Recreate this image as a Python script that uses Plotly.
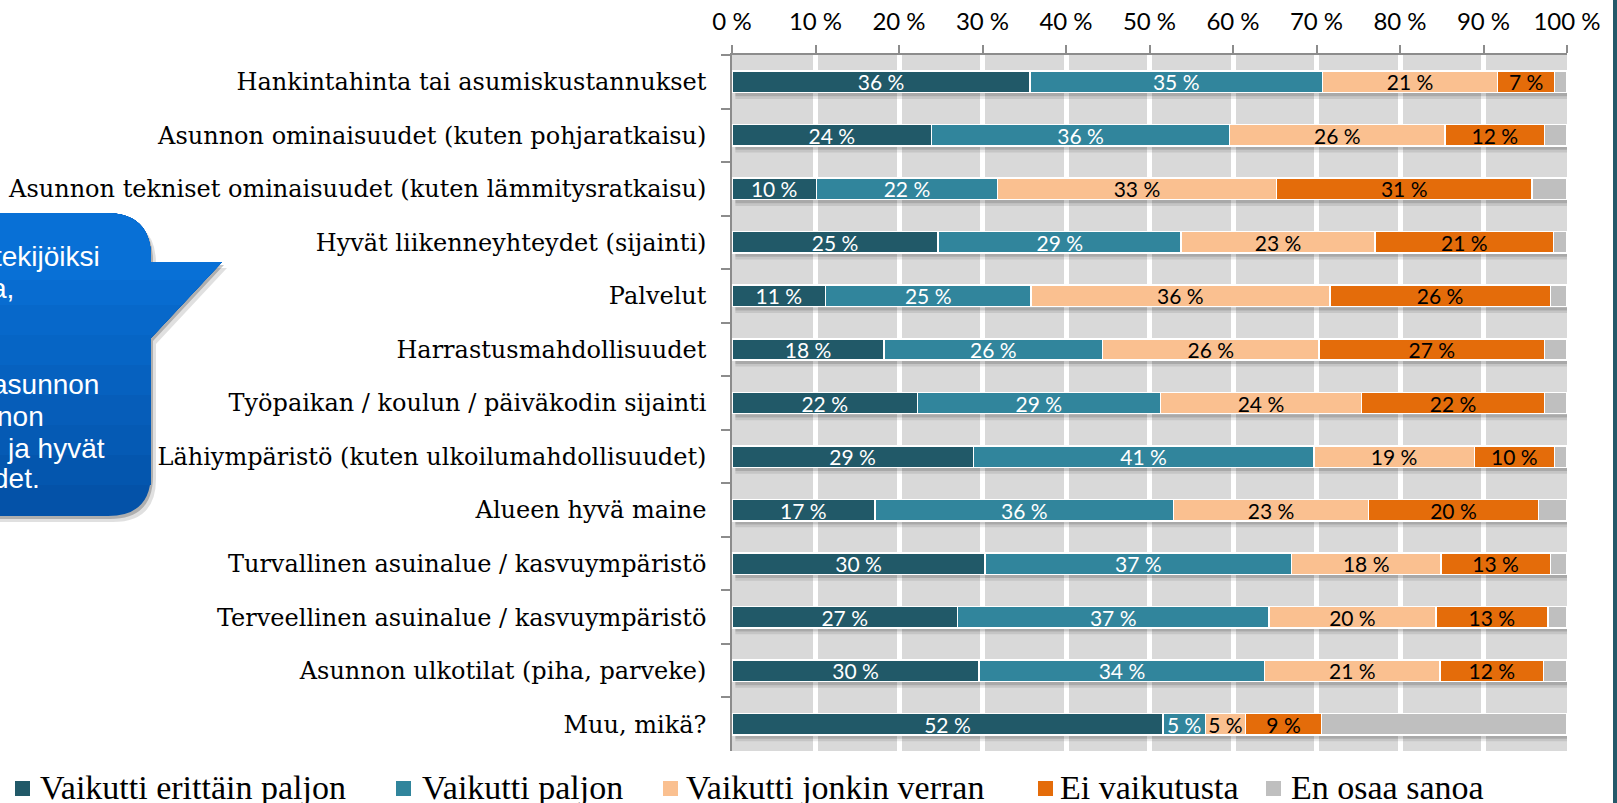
import plotly.graph_objects as go

# ---------------- data ----------------
categories = [
    "Hankintahinta tai asumiskustannukset",
    "Asunnon ominaisuudet (kuten pohjaratkaisu)",
    "Asunnon tekniset ominaisuudet (kuten lämmitysratkaisu)",
    "Hyvät liikenneyhteydet (sijainti)",
    "Palvelut",
    "Harrastusmahdollisuudet",
    "Työpaikan / koulun / päiväkodin sijainti",
    "Lähiympäristö (kuten ulkoilumahdollisuudet)",
    "Alueen hyvä maine",
    "Turvallinen asuinalue / kasvuympäristö",
    "Terveellinen asuinalue / kasvuympäristö",
    "Asunnon ulkotilat (piha, parveke)",
    "Muu, mikä?",
]
series_names = ["Vaikutti erittäin paljon", "Vaikutti paljon", "Vaikutti jonkin verran",
                "Ei vaikutusta", "En osaa sanoa"]
erittain_paljon = [35.7, 23.9, 10.1, 24.7, 11.2, 18.2, 22.2, 28.9, 17.1, 30.3, 27.0, 29.6, 51.6]
paljon          = [35.0, 35.7, 21.7, 29.1, 24.6, 26.2, 29.1, 40.8, 35.8, 36.7, 37.3, 34.2, 5.1]
jonkin_verran   = [21.0, 25.8, 33.4, 23.2, 35.8, 25.9, 24.1, 19.2, 23.3, 17.9, 20.0, 21.0, 4.8]
ei_vaikutusta   = [6.8, 11.9, 30.6, 21.4, 26.4, 27.0, 21.9, 9.6, 20.4, 13.1, 13.4, 12.4, 9.1]
en_osaa_sanoa   = [1.5, 2.7, 4.2, 1.6, 2.0, 2.7, 2.7, 1.5, 3.4, 2.0, 2.3, 2.8, 29.4]
series_values = [erittain_paljon, paljon, jonkin_verran, ei_vaikutusta, en_osaa_sanoa]
tick_values = [0, 10, 20, 30, 40, 50, 60, 70, 80, 90, 100]
tick_labels = [f"{v} %" for v in tick_values]

callout_fragments = ["tekijöiksi", "a,", ",", "asunnon", "non", "ja hyvät", "det."]

# ---------------- style ----------------
colors = ["#215968", "#31859C", "#FAC090", "#E46C0A", "#BFBFBF"]
text_colors = ["white", "white", "black", "black", None]
W, H = 1617, 803
ML, MR, MT, MB = 732, 50, 55, 52
PW, PH = W - ML - MR, H - MT - MB


def px(x):
    return (x - ML) / PW


def py(y):
    return (H - MB - y) / PH


fig = go.Figure()
for name, vals, col, tcol in zip(series_names, series_values, colors, text_colors):
    fig.add_trace(go.Bar(
        y=categories, x=vals, name=name, orientation="h",
        marker=dict(color=col, line=dict(color="white", width=1.5)),
        width=0.40,
        texttemplate="%{x:.0f} %" if tcol else None,
        textposition="inside" if tcol else "none",
        insidetextanchor="middle",
        textangle=0,
        constraintext="none",
        textfont=dict(family="Lato", size=21, color=tcol or "black"),
        showlegend=False,
        hoverinfo="x+name",
    ))

shapes = []
# soft shadows under each bar (from row totals)
for i in range(len(categories)):
    total = sum(s[i] for s in series_values)
    shapes.append(dict(type="rect", xref="x", yref="y", x0=0.4, x1=total + 0.3,
                       y0=i + 0.21, y1=i + 0.27, fillcolor="rgba(0,0,0,0.22)",
                       line=dict(width=0), layer="between"))
    shapes.append(dict(type="rect", xref="x", yref="y", x0=0.4, x1=total + 0.3,
                       y0=i + 0.27, y1=i + 0.32, fillcolor="rgba(0,0,0,0.09)",
                       line=dict(width=0), layer="between"))

# right border line of the slide
shapes.append(dict(type="rect", xref="paper", yref="paper", x0=px(1613), x1=px(1618),
                   y0=py(H + 5), y1=py(-5), fillcolor="#24596a", line=dict(width=0)))


# callout bubble
def bubble_path(k=None, dx=0.0, dy=0.0):
    def P(x, y):
        return f"{px(x + dx):.5f},{py(y + dy):.5f}"
    d = f"M{P(-40, 213)} L{P(106, 213)} Q{P(151, 213)} {P(151, 258)} L{P(151, 262)} L{P(222, 262)} "
    if k is None:
        d += f"L{P(151, 338)} L{P(151, 473)} Q{P(151, 516)} {P(108, 516)} L{P(-40, 516)} Z"
    elif k >= 338:
        d += f"L{P(151, 338)} L{P(151, k)} L{P(-40, k)} Z"
    else:
        xk = 222 - (k - 262) * 71 / 76
        d += f"L{P(xk, k)} L{P(-40, k)} Z"
    return d


shapes.append(dict(type="path", xref="paper", yref="paper", path=bubble_path(None, 5, 6),
                   fillcolor="rgba(0,0,0,0.12)", line=dict(width=0)))
shapes.append(dict(type="path", xref="paper", yref="paper", path=bubble_path(None, 2, 3),
                   fillcolor="rgba(0,0,0,0.22)", line=dict(width=0)))
bands = [None, 485, 455, 425, 395, 365, 335, 305, 280]
top_c, bot_c = (8, 112, 214), (4, 82, 168)
for j, k in enumerate(bands):
    t = j / (len(bands) - 1)
    c = tuple(round(bot_c[m] + (top_c[m] - bot_c[m]) * t) for m in range(3))
    shapes.append(dict(type="path", xref="paper", yref="paper", path=bubble_path(k),
                       fillcolor=f"rgb{c}", line=dict(width=0)))

annotations = []
frag_pos = [(102, 256), (16, 288), (3, 321), (101, 384), (46, 416), (107, 448), (42, 478)]
for txt, (xr, yc) in zip(callout_fragments, frag_pos):
    annotations.append(dict(text=txt, xref="paper", yref="paper", x=px(xr), y=py(yc),
                            xanchor="right", yanchor="middle", showarrow=False,
                            font=dict(family="Liberation Sans", size=28, color="white")))

# manual legend
legend_marker_x = [15, 396, 663, 1038, 1266]
legend_text_x = [38, 420, 684, 1058, 1289]
for name, col, mx, tx in zip(series_names, colors, legend_marker_x, legend_text_x):
    shapes.append(dict(type="rect", xref="paper", yref="paper", x0=px(mx), x1=px(mx + 15),
                       y0=py(796), y1=py(781), fillcolor=col, line=dict(width=0)))
    annotations.append(dict(text=name, xref="paper", yref="paper", x=px(tx), y=py(787),
                            xanchor="left", yanchor="middle", showarrow=False,
                            font=dict(family="Liberation Serif", size=34, color="black")))

fig.update_layout(
    barmode="stack",
    width=W, height=H, autosize=False,
    margin=dict(l=ML, r=MR, t=MT, b=MB, pad=0),
    paper_bgcolor="white", plot_bgcolor="#d9d9d9",
    shapes=shapes, annotations=annotations,
    bargap=0.6,
    xaxis=dict(
        side="top", range=[0, 100], tickvals=tick_values, ticktext=tick_labels,
        automargin=False,
        ticks="outside", ticklen=8, tickwidth=1.5, tickcolor="#8c8c8c",
        showline=True, linecolor="#8c8c8c", linewidth=1.5,
        showgrid=False, zeroline=False,
        tickfont=dict(family="Lato", size=24, color="black"),
        ticklabelstandoff=6,
        minor=dict(tickvals=tick_values[1:-1], showgrid=True, gridcolor="white",
                   gridwidth=4.5, ticks=""),
    ),
    yaxis=dict(
        type="category", range=[len(categories) - 0.5, -0.5],
        automargin=False,
        tickson="boundaries", ticks="outside", ticklen=9, tickwidth=1.5, tickcolor="#8c8c8c",
        showline=True, linecolor="#8c8c8c", linewidth=1.5, showgrid=False, zeroline=False,
        tickfont=dict(family="DejaVu Serif", size=24, color="black"),
        ticklabelstandoff=19,
    ),
)

fig.write_html(
    "out.html",
    config={"displayModeBar": False},
    post_script="document.body.style.margin='0';document.body.style.overflow='hidden';",
)
